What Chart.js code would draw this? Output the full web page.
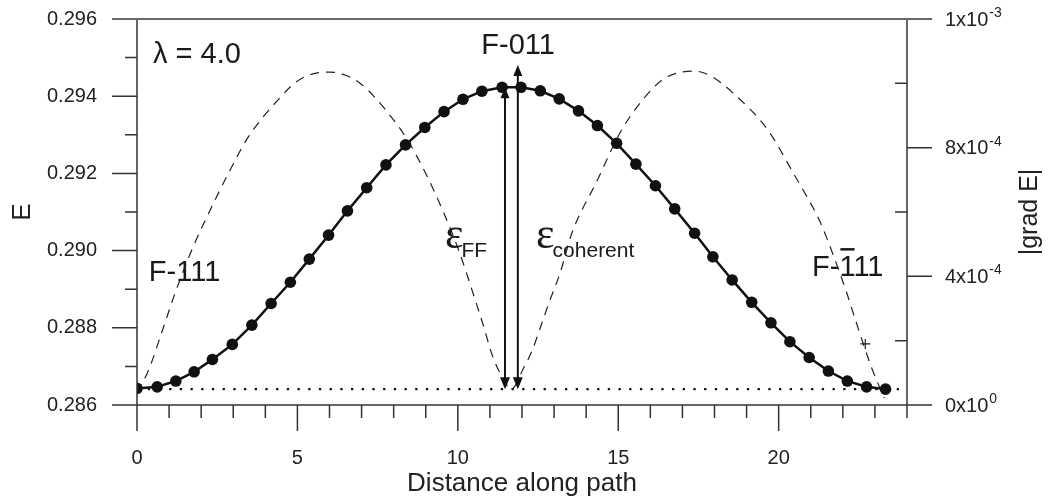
<!DOCTYPE html>
<html>
<head>
<meta charset="UTF-8" />
<title>Energy along path</title>
<style>
  body { margin: 0; background: #fff; }
  .chartBox { width: 1048px; height: 500px; }
</style>
</head>
<body>
<div class="chartBox"><canvas id="myChart" width="1048" height="500"></canvas></div>

<script src="https://cdn.jsdelivr.net/npm/chart.js"></script>
<script>
// values
const pathX = [0.00, 0.63, 1.21, 1.78, 2.35, 2.97, 3.58, 4.18, 4.78, 5.37,
               5.97, 6.56, 7.16, 7.76, 8.37, 8.97, 9.57, 10.16, 10.75, 11.38,
               11.97, 12.57, 13.16, 13.76, 14.35, 14.95, 15.55, 16.16, 16.76, 17.38,
               17.95, 18.55, 19.16, 19.76, 20.35, 20.95, 21.55, 22.14, 22.74, 23.33];
const energy = [0.28643, 0.28647, 0.28662, 0.28686, 0.28718, 0.28757, 0.28807, 0.28863, 0.28918, 0.28978,
                0.29040, 0.29103, 0.29163, 0.29222, 0.29274, 0.29319, 0.29360, 0.29392, 0.29413, 0.29423,
                0.29423, 0.29414, 0.29393, 0.29362, 0.29324, 0.29278, 0.29224, 0.29168, 0.29108, 0.29045,
                0.28984, 0.28924, 0.28866, 0.28813, 0.28764, 0.28723, 0.28688, 0.28662, 0.28647, 0.28641];

// |grad E|, in units of 1e-4
const gradX = [0.00, 0.35, 0.82, 1.18, 1.70, 2.30, 2.90, 3.46, 4.39, 4.96, 5.58, 6.00, 6.51, 7.03, 7.76,
               8.38, 9.00, 9.57, 10.03, 10.55, 10.75, 11.10, 11.33, 11.67, 12.05, 12.31, 12.57, 12.83,
               13.19, 13.55, 14.32, 15.10, 15.83, 16.45, 17.38, 17.90, 18.52, 19.66, 20.49, 21.27, 21.53,
               22.10, 22.40, 22.90, 23.29];
const gradE = [0.40, 1.06, 2.40, 3.46, 4.80, 6.10, 7.30, 8.32, 9.48, 10.04, 10.32, 10.35, 10.25, 9.94, 9.16,
               8.32, 7.20, 5.95, 4.80, 3.24, 2.62, 1.47, 0.97, 0.50, 1.15, 1.68, 2.40, 3.15,
               4.11, 5.33, 6.93, 8.54, 9.57, 10.16, 10.38, 10.22, 9.75, 8.55, 7.15, 5.74, 5.11,
               3.55, 2.62, 1.15, 0.22];

const crossX = [22.7];
const crossG = [1.9];

const baselineX = [0, 24];
const baselineE = 0.28641;

// double arrows: eps_FF and eps_coherent
const arrowX = [11.47, 11.87];
const arrowTopE = [0.29423, 0.29481];

// right axis labels (mantissa, exponent)
const gradTickLabels = { 0: ['0x10', '0'], 4: ['4x10', '-4'], 8: ['8x10', '-4'], 12: ['1x10', '-3'] };

const FONT = "'Liberation Sans', Arial, sans-serif";
const INK = '#111';

const toXY = (xs, ys) => xs.map((v, i) => ({ x: v, y: ys[i] }));

const noPad = s => { s.paddingTop = 0; s.paddingBottom = 0; s.paddingLeft = 0; s.paddingRight = 0; };

// ticks, frame, arrows and labels
const extrasPlugin = {
    id: 'extras',
    afterDatasetsDraw(chart) {
        const { ctx, scales: { x, y } } = chart;
        ctx.save();
        ctx.strokeStyle = INK;
        ctx.fillStyle = INK;
        ctx.lineWidth = 2;
        const yb = y.getPixelForValue(baselineE);
        arrowX.forEach((xv, i) => {
            const px = x.getPixelForValue(xv);
            const yt = y.getPixelForValue(arrowTopE[i]);
            ctx.beginPath();
            ctx.moveTo(px, yb - 10);
            ctx.lineTo(px, yt + 10);
            ctx.stroke();
            ctx.beginPath();
            ctx.moveTo(px, yb);
            ctx.lineTo(px - 5, yb - 12);
            ctx.lineTo(px + 5, yb - 12);
            ctx.closePath();
            ctx.fill();
            ctx.beginPath();
            ctx.moveTo(px, yt);
            ctx.lineTo(px - 4.5, yt + 11);
            ctx.lineTo(px + 4.5, yt + 11);
            ctx.closePath();
            ctx.fill();
        });
        ctx.restore();
    },
    afterDraw(chart) {
        const { ctx, chartArea: a, scales: { x, y, y1 } } = chart;
        ctx.save();
        ctx.strokeStyle = '#333';
        ctx.lineWidth = 1.5;

        ctx.beginPath();
        ctx.moveTo(a.left, a.top); ctx.lineTo(a.left, a.bottom);
        ctx.moveTo(a.left, a.bottom); ctx.lineTo(a.right, a.bottom);
        ctx.moveTo(a.right, a.top); ctx.lineTo(a.right, a.bottom);

        x.ticks.forEach(t => {
            const px = x.getPixelForValue(t.value);
            const len = t.value % 5 === 0 ? 26 : 13;
            ctx.moveTo(px, a.bottom); ctx.lineTo(px, a.bottom + len);
        });
        y.ticks.forEach(t => {
            const py = y.getPixelForValue(t.value);
            const len = Math.round(t.value * 1000) % 2 === 0 ? 25 : 12;
            ctx.moveTo(a.left - len, py); ctx.lineTo(a.left, py);
        });
        y1.ticks.forEach(t => {
            const py = y1.getPixelForValue(t.value);
            if (gradTickLabels[t.value]) {
                ctx.moveTo(a.right, py); ctx.lineTo(a.right + 25, py);
            } else {
                ctx.moveTo(a.right - 12, py); ctx.lineTo(a.right, py);
            }
        });
        ctx.stroke();

        ctx.strokeStyle = '#6a6a6a';
        ctx.lineWidth = 2;
        ctx.beginPath();
        ctx.moveTo(a.left - 25, a.top); ctx.lineTo(a.right + 25, a.top);
        ctx.stroke();

        // right tick labels with superscripts
        ctx.fillStyle = '#222';
        ctx.textBaseline = 'middle';
        ctx.textAlign = 'left';
        Object.keys(gradTickLabels).forEach(k => {
            const [m, e] = gradTickLabels[k];
            const py = y1.getPixelForValue(Number(k));
            const lx = a.right + 38;
            ctx.font = '20px ' + FONT;
            ctx.fillText(m, lx, py + 1);
            const w = ctx.measureText(m).width;
            ctx.font = '14px ' + FONT;
            ctx.fillText(e, lx + w + 1, py - 6);
        });

        // right axis title, reading upwards
        ctx.save();
        ctx.translate(a.right + 123, (a.top + a.bottom) / 2);
        ctx.rotate(-Math.PI / 2);
        ctx.textAlign = 'center';
        ctx.font = '25px ' + FONT;
        ctx.fillText('|grad E|', 0, 0);
        ctx.restore();

        // annotations
        ctx.fillStyle = '#1a1a1a';
        ctx.textBaseline = 'alphabetic';
        ctx.font = '29px ' + FONT;
        ctx.textAlign = 'left';
        ctx.fillText('\u03bb = 4.0', x.getPixelForValue(0.5), y.getPixelForValue(0.29486));
        ctx.fillText('F-111', x.getPixelForValue(0.37), y.getPixelForValue(0.28921));

        ctx.textAlign = 'center';
        ctx.fillText('F-011', x.getPixelForValue(11.88), y.getPixelForValue(0.29509));

        ctx.textAlign = 'left';
        const fx = x.getPixelForValue(21.04);
        const fy = y.getPixelForValue(0.28934);
        ctx.fillText('F-111', fx, fy);
        const pre = ctx.measureText('F-').width;
        const one = ctx.measureText('1').width;
        ctx.fillRect(fx + pre + 1, fy - 28, one - 2, 2.5);

        const eps = (xv, ev, sub) => {
            const px = x.getPixelForValue(xv);
            const py = y.getPixelForValue(ev);
            ctx.font = "44px 'Liberation Serif', 'DejaVu Serif', serif";
            ctx.fillText('\u03b5', px, py);
            const w = ctx.measureText('\u03b5').width;
            ctx.font = '21px ' + FONT;
            ctx.fillText(sub, px + w - 2, py + 9);
        };
        eps(9.6, 0.29007, 'FF');
        eps(12.44, 0.29007, 'coherent');

        ctx.restore();
    }
};

const data = {
    datasets: [
        {
            label: 'E',
            data: toXY(pathX, energy),
            yAxisID: 'y',
            borderColor: INK,
            backgroundColor: INK,
            borderWidth: 2.5,
            pointRadius: 5.8,
            pointBorderWidth: 0,
            tension: 0,
            order: 0
        },
        {
            label: 'baseline',
            data: toXY(baselineX, [baselineE, baselineE]),
            yAxisID: 'y',
            borderColor: INK,
            borderWidth: 2.3,
            borderDash: [2.3, 8.4],
            pointRadius: 0,
            order: 2
        },
        {
            label: '|grad E|',
            data: toXY(gradX, gradE),
            yAxisID: 'y1',
            borderColor: '#222',
            borderWidth: 1.2,
            borderDash: [9, 7],
            pointRadius: 0,
            cubicInterpolationMode: 'monotone',
            order: 3
        },
        {
            label: 'mark',
            data: toXY(crossX, crossG),
            yAxisID: 'y1',
            showLine: false,
            pointStyle: 'cross',
            pointRadius: 5,
            borderColor: '#222',
            borderWidth: 1.2,
            order: 1
        }
    ]
};

const config = {
    type: 'line',
    data,
    options: {
        responsive: false,
        animation: false,
        layout: { padding: { top: 19, left: 0, right: 0, bottom: 0 } },
        plugins: { legend: { display: false }, tooltip: { enabled: false } },
        scales: {
            x: {
                type: 'linear',
                min: 0,
                max: 24,
                grid: { display: false, drawTicks: false },
                border: { display: false },
                ticks: {
                    stepSize: 1,
                    autoSkip: false,
                    maxRotation: 0,
                    padding: 41,
                    color: '#222',
                    font: { family: FONT, size: 20 },
                    callback: v => (v % 5 === 0 ? String(v) : '')
                },
                title: {
                    display: true,
                    text: 'Distance along path',
                    color: '#222',
                    font: { family: FONT, size: 26 },
                    padding: { top: 0, bottom: 1 }
                },
                afterFit: s => { s.height = 95; noPad(s); }
            },
            y: {
                position: 'left',
                min: 0.286,
                max: 0.296,
                grid: { display: false, drawTicks: false },
                border: { display: false },
                ticks: {
                    stepSize: 0.001,
                    autoSkip: false,
                    padding: 40,
                    color: '#222',
                    font: { family: FONT, size: 20 },
                    callback: v => (Math.round(v * 1000) % 2 === 0 ? v.toFixed(3) : '')
                },
                title: {
                    display: true,
                    text: 'E',
                    color: '#222',
                    font: { family: FONT, size: 26 },
                    padding: { top: 7, bottom: 0 }
                },
                afterFit: s => { s.width = 137; noPad(s); }
            },
            y1: {
                position: 'right',
                min: 0,
                max: 12,
                grid: { display: false, drawTicks: false },
                border: { display: false },
                ticks: { display: false, stepSize: 2 },
                afterFit: s => { s.width = 141; noPad(s); }
            }
        }
    },
    plugins: [extrasPlugin]
};

const myChart = new Chart(document.getElementById('myChart'), config);
</script>
</body>
</html>
